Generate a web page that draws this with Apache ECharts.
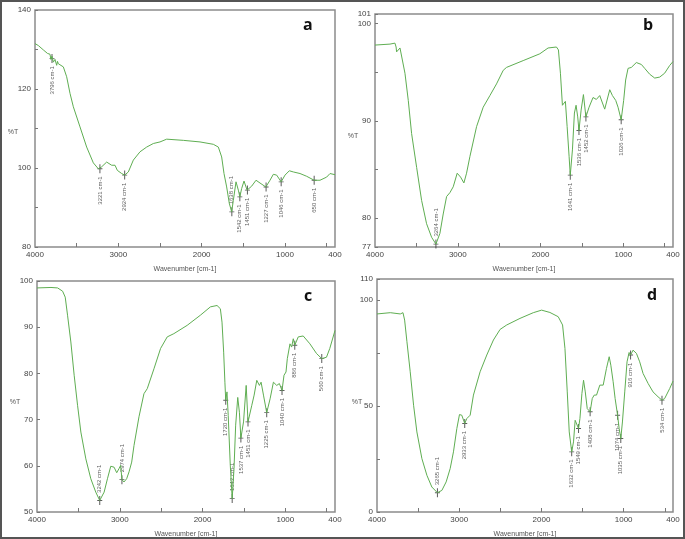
<!DOCTYPE html>
<html><head><meta charset="utf-8">
<script src="https://cdn.jsdelivr.net/npm/echarts@6/dist/echarts.min.js"></script>
<style>html,body{margin:0;padding:0;background:#fff}#c{width:685px;height:539px}</style>
</head><body><div id="c"></div><script>
// Panel a
const aWave=[4000,3960,3900,3850,3820,3810,3796,3780,3760,3740,3730,3720,3700,3660,3620,3580,3540,3460,3380,3300,3240,3200,3140,3080,3040,3012,2960,2924,2880,2820,2740,2660,2580,2500,2420,2220,2020,1860,1800,1760,1732,1700,1668,1640,1620,1588,1560,1542,1520,1492,1455,1400,1348,1300,1230,1180,1140,1100,1046,1000,948,900,820,740,650,580,500,460,400];
const aT=[131.5,131,129.9,129,128.8,127.5,128.3,126.8,127.5,126.0,127.0,126.4,126.5,125.6,123.1,118.9,115.5,110.4,105.3,101.3,99.8,100.3,101.5,100.7,100.7,99.4,98.6,98.2,99.0,102.0,104.1,105.3,106.2,106.6,107.3,107.0,106.6,106.0,105.3,102.8,98.6,95.2,91.0,88.9,91.8,96.5,94.4,92.7,94.8,96.7,94.4,95.4,96.9,96.2,95.2,96.9,98.4,98.2,96.5,98.2,99.3,99.0,98.6,97.9,96.9,96.9,97.7,98.6,98.3];
const aPeakWave=[3796,3221,2924,1638,1542,1451,1227,1046,650];
const aPeakT=[127.7,99.8,98.2,88.9,92.7,94.4,95.2,96.5,96.9];
const aYLabels=[80,100,120,140];
const aYTicks=[80,90,100,110,120,130,140];
// Panel b
const bWave=[4000,3819,3759,3745,3739,3698,3678,3638,3598,3558,3497,3437,3377,3316,3264,3216,3176,3135,3095,3055,3007,2966,2926,2894,2854,2773,2693,2612,2532,2451,2411,2210,2009,1909,1808,1784,1760,1736,1716,1700,1679,1655,1641,1615,1591,1571,1551,1536,1510,1482,1452,1414,1366,1326,1285,1225,1205,1164,1132,1092,1064,1026,996,972,943,903,843,782,742,682,621,561,501,440,400];
const bT=[97.8,97.9,98.0,97.6,97.1,97.5,97.4,94.9,92.1,88.7,85.2,81.8,79.4,78.0,77.3,78.4,80.4,82.2,82.6,83.2,84.6,84.2,83.6,84.6,86.3,89.4,91.4,92.6,93.8,95.2,95.5,96.2,96.9,97.5,97.6,97.3,94.9,91.6,91.4,92.0,89.4,86.3,84.4,87.0,90.8,91.6,90.4,89.0,91.1,92.7,90.4,91.4,92.4,92.2,92.6,91.2,91.1,93.2,92.6,92.1,91.4,90.1,92.1,94.2,95.4,95.5,96.0,95.8,95.4,94.8,94.4,94.5,94.9,95.7,96.1];
const bPeakWave=[3264,1641,1536,1452,1026];
const bPeakT=[77.3,84.4,89.0,90.4,90.1];
const bYLabels=[77,80,90,100,101];
const bYTicks=[77,80,85,90,95,100,101];
// Panel c
const cWave=[4000,3831,3751,3691,3659,3631,3591,3551,3510,3470,3410,3350,3290,3242,3189,3149,3109,3069,3037,3009,2989,2974,2949,2917,2888,2856,2828,2768,2708,2668,2587,2507,2427,2347,2186,2026,1905,1825,1785,1765,1745,1730,1720,1705,1690,1665,1642,1620,1600,1575,1555,1537,1505,1473,1451,1405,1377,1345,1313,1293,1264,1225,1184,1144,1104,1072,1040,1016,992,976,944,924,904,886,844,784,703,623,560,503,463,400];
const cT=[98.5,98.6,98.5,97.8,96.5,92.6,86.8,79.6,73.1,67.3,61.5,57.2,54.3,52.5,54.3,57.2,59.9,59.7,58.5,59.4,60.1,57.0,56.5,57.2,58.7,60.8,64.4,70.6,75.6,76.7,81.0,85.4,87.9,88.6,90.4,92.6,94.4,94.7,94.0,91.1,84.6,78.1,74.2,76.0,70.9,60.1,52.9,59.4,68.8,74.8,71.6,66.0,69.5,77.4,69.5,73.1,75.3,78.5,77.4,78.1,75.3,71.5,74.5,78.1,77.4,77.8,76.3,79.6,80.3,83.2,86.4,85.7,87.5,86.1,87.9,88.1,86.4,84.3,83.2,83.5,85.4,89.3];
const cPeakWave=[3242,2974,1720,1642,1537,1451,1225,1040,886,560];
const cPeakT=[52.5,57.0,74.2,52.9,66.0,69.5,71.5,76.3,86.1,83.2];
const cYLabels=[50,60,70,80,90,100];
const cYTicks=[50,60,70,80,90,100];
// Panel d
const dWave=[4000,3838,3717,3684,3664,3636,3596,3555,3515,3454,3393,3333,3265,3211,3159,3110,3070,3029,2997,2969,2933,2908,2867,2827,2746,2665,2584,2503,2422,2261,2099,1998,1897,1796,1743,1714,1686,1662,1632,1610,1590,1575,1549,1532,1508,1488,1467,1443,1408,1382,1358,1330,1290,1249,1209,1176,1156,1128,1104,1074,1055,1035,1015,987,959,934,916,886,845,805,764,703,643,582,534,501,440,400];
const dT=[93.5,94.1,93.5,94.1,90.6,80.4,66.2,50.4,37.8,25.2,17.3,11.8,9.1,10.2,14.2,20.5,28.4,39.4,46.0,45.7,41.8,44.1,45.7,55.2,66.2,74.1,81.2,86.2,88.3,91.4,94.1,95.3,94.2,92.2,88.3,77.2,56.7,37.8,28.4,33.1,43.3,44.1,39.4,44.1,55.9,62.2,56.7,48.8,47.3,53.6,55.2,55.2,59.9,59.9,67.8,73.3,69.3,61.5,53.6,45.7,39.4,34.7,42.5,56.7,70.9,75.3,74.1,76.4,74.9,70.9,65.4,60.7,56.7,54.4,52.8,53.6,58.3,61.8];
const dPeakWave=[3265,2933,1632,1549,1408,1074,1035,916,534];
const dPeakT=[9.1,41.8,28.4,39.4,47.3,45.7,34.7,74.1,52.8];
const dYLabels=[0,50,100,110];
const dYTicks=[0,25,50,75,100,110];

const xLabels=[400,1000,2000,3000,4000];
const xTicks=[500,1000,1500,2000,2500,3000,3500];
const panelLetters=['a','b','c','d'];
const yTitle='%T';

const panels=[
 {w:aWave,t:aT,pw:aPeakWave,pt:aPeakT,yl:aYLabels,yt:aYTicks,min:80,max:140,grid:{left:35,top:10,width:300,height:237},letter:[308,27],ytitle:[13,132]},
 {w:bWave,t:bT,pw:bPeakWave,pt:bPeakT,yl:bYLabels,yt:bYTicks,min:77,max:101,grid:{left:375,top:14,width:298,height:233},letter:[648,27],ytitle:[353,136]},
 {w:cWave,t:cT,pw:cPeakWave,pt:cPeakT,yl:cYLabels,yt:cYTicks,min:50,max:100,grid:{left:37,top:281,width:298,height:231},letter:[309,298],ytitle:[15,402]},
 {w:dWave,t:dT,pw:dPeakWave,pt:dPeakT,yl:dYLabels,yt:dYTicks,min:0,max:110,grid:{left:377,top:279,width:296,height:233},letter:[652,297],ytitle:[357,402]}
];
const FONT='Liberation Sans';
const plain=v=>String(v);
const grids=[],xAxes=[],yAxes=[],series=[],graphics=[];
panels.forEach((p,i)=>{
  grids.push(Object.assign({show:true,borderColor:'#8c8c8c',borderWidth:1.5,backgroundColor:'#fff'},p.grid));
  xAxes.push({type:'value',gridIndex:i,inverse:true,min:400,max:4000,
    name:'Wavenumber [cm-1]',nameLocation:'middle',nameGap:19,
    nameTextStyle:{fontSize:7,color:'#555',fontFamily:FONT},
    axisLine:{show:false},splitLine:{show:false},
    axisTick:{show:true,inside:true,length:4,customValues:xTicks,lineStyle:{color:'#777'}},
    axisLabel:{customValues:xLabels,formatter:plain,fontSize:8,color:'#444',margin:4,fontFamily:FONT}});
  yAxes.push({type:'value',gridIndex:i,min:p.min,max:p.max,
    axisLine:{show:false},splitLine:{show:false},
    axisTick:{show:true,inside:true,length:3,customValues:p.yt,lineStyle:{color:'#777'}},
    axisLabel:{customValues:p.yl,formatter:plain,fontSize:8,color:'#444',margin:4,fontFamily:FONT}});
  series.push({type:'line',xAxisIndex:i,yAxisIndex:i,showSymbol:false,animation:false,
    lineStyle:{color:'#5fae52',width:1},data:p.w.map((w,k)=>[w,p.t[k]])});
  const span=p.max-p.min;
  series.push({type:'scatter',xAxisIndex:i,yAxisIndex:i,animation:false,
    symbol:'path://M-0.5,0h1v10h-1z M-2.5,4.5h5v1h-5z',symbolSize:[5,9],
    itemStyle:{color:'#333'},
    data:p.pw.map((w,k)=>{
      const low=(p.pt[k]-p.min)/span<0.2;
      return {value:[w,p.pt[k]],label:{show:true,rotate:90,position:low?'top':'bottom',
        align:low?'left':'right',verticalAlign:'middle',distance:3,
        formatter:w+' cm-1',fontSize:6,color:'#333',fontFamily:FONT}};
    })});
  graphics.push({type:'text',left:p.letter[0]-5,top:p.letter[1]-10,
    style:{text:panelLetters[i],font:'bold 16px "Open Sans", "Liberation Sans", sans-serif',fill:'#111'}});
  graphics.push({type:'text',x:p.ytitle[0],y:p.ytitle[1],
    style:{text:yTitle,font:'7px "Liberation Sans", sans-serif',fill:'#555',align:'center',verticalAlign:'middle'}});
});
graphics.push({type:'rect',shape:{x:1,y:1,width:683,height:537},style:{fill:'none',stroke:'#555',lineWidth:2}});
const chart=echarts.init(document.getElementById('c'),null,{renderer:'canvas'});
chart.setOption({animation:false,grid:grids,xAxis:xAxes,yAxis:yAxes,series:series,graphic:graphics});
</script></body></html>
